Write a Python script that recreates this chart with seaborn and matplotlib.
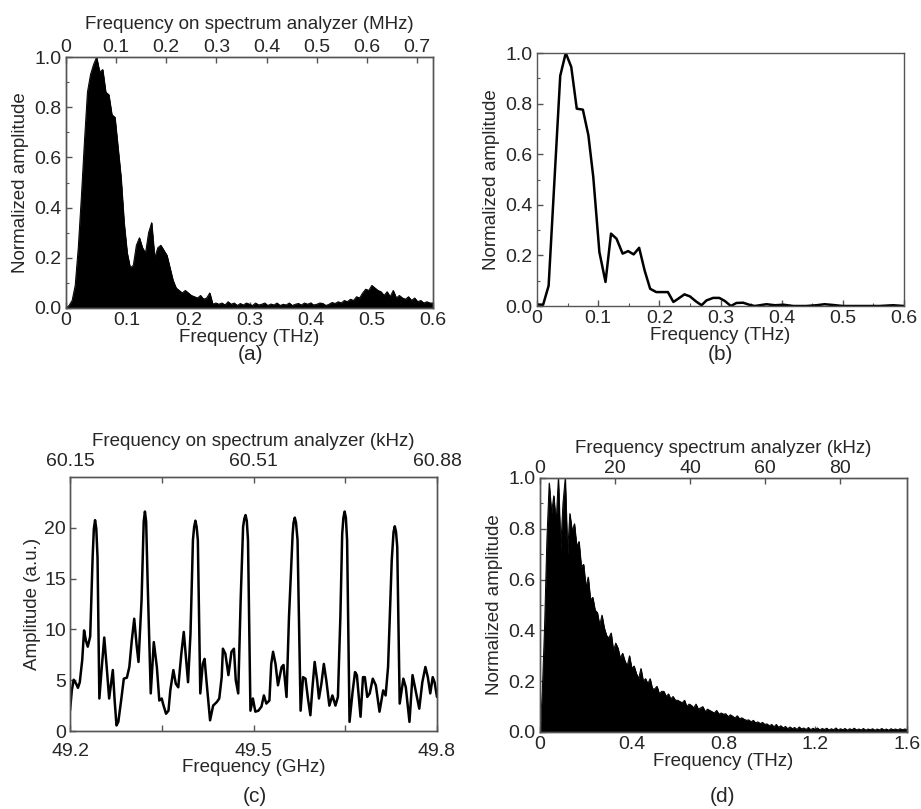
import numpy as np
import matplotlib
matplotlib.use("Agg")
import matplotlib.pyplot as plt
import seaborn as sns
from matplotlib.ticker import MultipleLocator

# ---------------- data ----------------
# (a) spectrum, 0.005 THz step
a_freq = [round(i * 0.005, 3) for i in range(121)]
a_amp = [
    0.00, 0.01, 0.03, 0.09, 0.24, 0.44, 0.66, 0.86, 0.93, 0.97,
    1.00, 0.94, 0.95, 0.86, 0.85, 0.77, 0.76, 0.64, 0.52, 0.34,
    0.22, 0.16, 0.17, 0.25, 0.28, 0.24, 0.22, 0.30, 0.34, 0.20,
    0.24, 0.25, 0.23, 0.21, 0.16, 0.11, 0.08, 0.07, 0.06, 0.07,
    0.06, 0.05, 0.045, 0.04, 0.05, 0.035, 0.04, 0.06, 0.015, 0.02,
    0.015, 0.02, 0.012, 0.025, 0.015, 0.02, 0.01, 0.018, 0.012, 0.02,
    0.015, 0.01, 0.02, 0.012, 0.015, 0.02, 0.01, 0.016, 0.012, 0.02,
    0.01, 0.015, 0.012, 0.02, 0.01, 0.015, 0.018, 0.012, 0.02, 0.015,
    0.02, 0.012, 0.015, 0.02, 0.018, 0.01, 0.015, 0.022, 0.018, 0.025,
    0.02, 0.03, 0.025, 0.035, 0.03, 0.045, 0.04, 0.06, 0.075, 0.07,
    0.09, 0.08, 0.07, 0.065, 0.05, 0.065, 0.045, 0.07, 0.04, 0.05,
    0.04, 0.035, 0.045, 0.03, 0.04, 0.025, 0.03, 0.02, 0.025, 0.02,
    0.02,
]
a_top_max = 0.732          # MHz at right edge of top axis
a_top_ticks = [0, 0.1, 0.2, 0.3, 0.4, 0.5, 0.6, 0.7]

# (b) line spectrum
b_freq = [0.0, 0.01, 0.019, 0.038, 0.047, 0.056, 0.065, 0.075, 0.084, 0.092,
          0.102, 0.112, 0.121, 0.13, 0.14, 0.149, 0.158, 0.167, 0.176, 0.185,
          0.195, 0.214, 0.223, 0.231, 0.241, 0.25, 0.26, 0.269, 0.277, 0.288,
          0.298, 0.307, 0.317, 0.326, 0.337, 0.347, 0.356, 0.367, 0.375, 0.389,
          0.403, 0.419, 0.44, 0.457, 0.47, 0.484, 0.5, 0.527, 0.56, 0.582, 0.6]
b_amp = [0.006, 0.005, 0.08, 0.91, 1.0, 0.945, 0.78, 0.776, 0.675, 0.51,
         0.213, 0.095, 0.286, 0.266, 0.207, 0.217, 0.204, 0.23, 0.14, 0.068,
         0.055, 0.055, 0.016, 0.029, 0.046, 0.038, 0.018, 0.003, 0.022, 0.032,
         0.032, 0.02, 0.0, 0.012, 0.013, 0.005, 0.0, 0.004, 0.007, 0.003,
         0.005, 0.0, 0.0, 0.003, 0.007, 0.004, 0.0, 0.0, 0.0, 0.003, 0.0]

# (c) comb spectrum
c_freq = [49.2, 49.203, 49.206, 49.21, 49.213, 49.216, 49.22, 49.223, 49.226, 49.229,
          49.233, 49.237, 49.239, 49.241, 49.243, 49.245, 49.248, 49.252, 49.256, 49.26,
          49.264, 49.27, 49.273, 49.276, 49.279, 49.284, 49.288, 49.293, 49.297, 49.301,
          49.305, 49.309, 49.312, 49.317, 49.3205, 49.3225, 49.3245, 49.327, 49.332, 49.337,
          49.342, 49.346, 49.35, 49.352, 49.357, 49.361, 49.364, 49.369, 49.373, 49.377,
          49.382, 49.386, 49.389, 49.393, 49.397, 49.401, 49.403, 49.405, 49.407, 49.409,
          49.413, 49.417, 49.42, 49.423, 49.429, 49.434, 49.44, 49.444, 49.448, 49.45,
          49.454, 49.459, 49.464, 49.468, 49.471, 49.475, 49.479, 49.483, 49.485, 49.487,
          49.489, 49.491, 49.495, 49.499, 49.503, 49.508, 49.513, 49.517, 49.521, 49.526,
          49.529, 49.532, 49.536, 49.54, 49.546, 49.549, 49.554, 49.558, 49.564, 49.5655,
          49.5675, 49.5695, 49.572, 49.577, 49.581, 49.585, 49.589, 49.593, 49.596, 49.6,
          49.604, 49.607, 49.611, 49.615, 49.619, 49.624, 49.629, 49.634, 49.638, 49.642,
          49.645, 49.647, 49.649, 49.651, 49.653, 49.657, 49.662, 49.666, 49.669, 49.675,
          49.679, 49.682, 49.686, 49.69, 49.695, 49.7, 49.706, 49.712, 49.716, 49.72,
          49.726, 49.729, 49.731, 49.733, 49.735, 49.739, 49.745, 49.749, 49.755, 49.76,
          49.765, 49.771, 49.776, 49.781, 49.785, 49.789, 49.793, 49.796, 49.8]
c_amp = [2.0, 4.0, 5.05, 4.65, 4.25, 4.8, 7.0, 9.9, 8.9, 8.3,
         9.3, 17.1, 19.9, 20.75, 19.9, 17.1, 3.2, 6.3, 9.2, 6.3,
         3.2, 6.0, 3.0, 0.55, 0.9, 3.2, 5.15, 5.25, 6.3, 8.9,
         11.05, 8.4, 6.8, 12.9, 20.6, 21.6, 20.6, 14.5, 3.7, 8.75,
         6.3, 3.0, 3.2, 2.7, 1.7, 2.0, 4.0, 6.0, 4.65, 4.3,
         7.6, 9.75, 7.6, 4.8, 9.6, 18.8, 20.1, 20.7, 20.1, 18.8,
         3.7, 6.6, 7.1, 5.0, 1.05, 2.5, 2.85, 3.2, 5.3, 8.1,
         7.6, 5.5, 7.8, 8.1, 5.0, 3.7, 12.9, 20.1, 20.9, 21.25,
         20.7, 18.8, 2.0, 3.2, 1.9, 2.0, 2.4, 3.5, 2.7, 3.0,
         6.6, 7.8, 6.6, 4.5, 6.3, 6.5, 3.35, 11.2, 19.4, 20.5,
         21.0, 20.5, 18.8, 2.0, 5.3, 5.15, 3.2, 1.55, 4.0, 6.8,
         5.0, 3.2, 4.65, 6.6, 5.0, 2.5, 3.5, 2.5, 3.35, 11.2,
         19.4, 21.0, 21.6, 21.0, 18.8, 0.9, 3.85, 5.8, 5.5, 1.4,
         5.3, 5.3, 3.35, 3.7, 5.15, 4.5, 1.9, 4.0, 3.5, 6.3,
         16.8, 19.6, 20.15, 19.6, 18.1, 2.7, 5.15, 4.3, 0.9, 5.5,
         4.0, 2.2, 4.8, 6.3, 5.3, 3.7, 5.3, 4.8, 3.35]
c_bottom_ticks = [49.2, 49.5, 49.8]
c_top_labels = ["60.15", "60.51", "60.88"]

# (d) broadband spectrum, 0.01 THz step
d_freq = [round(i * 0.01, 2) for i in range(161)]
d_amp = [
    0.00, 0.16, 0.42, 0.76, 0.98, 0.86, 0.93, 0.82, 1.00, 0.72,
    0.90, 1.00, 0.70, 0.86, 0.79, 0.82, 0.73, 0.75, 0.65, 0.66,
    0.57, 0.61, 0.52, 0.53, 0.48, 0.47, 0.42, 0.46, 0.41, 0.38,
    0.37, 0.39, 0.32, 0.35, 0.33, 0.29, 0.31, 0.28, 0.26, 0.30,
    0.25, 0.26, 0.23, 0.21, 0.25, 0.20, 0.21, 0.19, 0.21, 0.17,
    0.17, 0.18, 0.15, 0.16, 0.16, 0.14, 0.15, 0.13, 0.14, 0.125,
    0.125, 0.12, 0.115, 0.125, 0.10, 0.11, 0.105, 0.095, 0.11, 0.09,
    0.095, 0.10, 0.08, 0.09, 0.085, 0.08, 0.075, 0.085, 0.07, 0.075,
    0.07, 0.072, 0.06, 0.068, 0.062, 0.055, 0.064, 0.052, 0.056, 0.05,
    0.046, 0.048, 0.04, 0.046, 0.036, 0.04, 0.033, 0.038, 0.03, 0.032,
    0.024, 0.03, 0.02, 0.03, 0.018, 0.025, 0.016, 0.022, 0.013, 0.02,
    0.013, 0.018, 0.01, 0.02, 0.012, 0.016, 0.01, 0.018, 0.009, 0.015,
    0.01, 0.016, 0.008, 0.014, 0.01, 0.015, 0.008, 0.013, 0.009, 0.016,
    0.008, 0.013, 0.009, 0.014, 0.007, 0.013, 0.009, 0.015, 0.008, 0.012,
    0.008, 0.014, 0.007, 0.012, 0.009, 0.013, 0.007, 0.012, 0.008, 0.014,
    0.008, 0.012, 0.007, 0.013, 0.009, 0.012, 0.008, 0.013, 0.009, 0.012,
    0.01,
]
d_top_max = 97.8           # kHz at right edge of top axis
d_top_ticks = [0, 20, 40, 60, 80]

# ---------------- style ----------------
sns.set_style("white")
plt.rcParams['font.family'] = ['Liberation Sans', 'DejaVu Sans']
SPINE = "#555555"
TICKFS = 14
LABFS = 13.5

W, H = 921, 809
fig = plt.figure(figsize=(W / 100, H / 100), dpi=100)


def add_ax(l, r, t, b):
    return fig.add_axes([l / W, (H - b) / H, (r - l) / W, (b - t) / H])


def style(ax, top=False):
    for s in ax.spines.values():
        s.set_color(SPINE)
        s.set_linewidth(1.0)
    if top:
        ax.tick_params(axis='x', which='both', top=True, bottom=False)
    else:
        ax.tick_params(axis='both', which='both', bottom=True, left=True)
    ax.tick_params(which='major', direction='in', length=4, width=1, color=SPINE,
                   labelsize=TICKFS, pad=3)
    ax.tick_params(which='minor', direction='in', length=2.5, width=0.8, color=SPINE)


def fmt1(v, p):
    return "0" if abs(v) < 1e-9 else f"{v:.1f}"


# (a)
axa = add_ax(66, 433, 57, 308)
axa.fill_between(a_freq, a_amp, 0, color='black', linewidth=0.5, edgecolor='black')
sns.lineplot(x=a_freq, y=a_amp, ax=axa, color='black', linewidth=0.7, estimator=None)
axa.set_xlim(0, 0.6)
axa.set_ylim(0, 1.0)
axa.xaxis.set_major_locator(MultipleLocator(0.1))
axa.yaxis.set_major_locator(MultipleLocator(0.2))
axa.yaxis.set_minor_locator(MultipleLocator(0.1))
axa.xaxis.set_major_formatter(plt.FuncFormatter(fmt1))
axa.yaxis.set_major_formatter(plt.FuncFormatter(lambda v, p: f"{v:.1f}"))
axa.set_xlabel("Frequency (THz)", fontsize=LABFS, labelpad=0)
axa.set_ylabel("Normalized amplitude", fontsize=LABFS, labelpad=4)
style(axa)
ta = axa.twiny()
ta.set_xlim(0, a_top_max)
ta.set_xticks(a_top_ticks)
ta.set_xticklabels(["0"] + [f"{v:.1f}" for v in a_top_ticks[1:]])
ta.set_xlabel("Frequency on spectrum analyzer (MHz)", fontsize=LABFS, labelpad=7)
style(ta, top=True)
ta.tick_params(pad=1)
fig.text(250 / W, 1 - 355 / H, "(a)", ha='center', va='center', fontsize=15)

# (b)
axb = add_ax(537, 904, 53, 306)
sns.lineplot(x=b_freq, y=b_amp, ax=axb, color='black', linewidth=1.8, estimator=None)
axb.set_xlim(0, 0.6)
axb.set_ylim(0, 1.0)
axb.xaxis.set_major_locator(MultipleLocator(0.1))
axb.xaxis.set_minor_locator(MultipleLocator(0.05))
axb.yaxis.set_major_locator(MultipleLocator(0.2))
axb.yaxis.set_minor_locator(MultipleLocator(0.1))
axb.xaxis.set_major_formatter(plt.FuncFormatter(fmt1))
axb.yaxis.set_major_formatter(plt.FuncFormatter(lambda v, p: f"{v:.1f}"))
axb.set_xlabel("Frequency (THz)", fontsize=LABFS, labelpad=0)
axb.set_ylabel("Normalized amplitude", fontsize=LABFS, labelpad=4)
style(axb)
fig.text(720 / W, 1 - 355 / H, "(b)", ha='center', va='center', fontsize=15)

# (c)
axc = add_ax(70, 437, 477, 731)
sns.lineplot(x=c_freq, y=c_amp, ax=axc, color='black', linewidth=1.8, estimator=None)
axc.set_xlim(49.2, 49.8)
axc.set_ylim(0, 25)
axc.set_xticks(c_bottom_ticks)
axc.set_xticklabels([f"{v:.1f}" for v in c_bottom_ticks])
axc.set_xticks([49.35, 49.65], minor=True)
axc.set_yticks([0, 5, 10, 15, 20])
axc.set_xlabel("Frequency (GHz)", fontsize=LABFS, labelpad=-1)
axc.set_ylabel("Amplitude (a.u.)", fontsize=LABFS, labelpad=2)
style(axc)
axc.tick_params(axis='x', which='both', pad=9)
axc.tick_params(which='minor', length=4, width=1)
tc = axc.twiny()
tc.set_xlim(49.2, 49.8)
tc.set_xticks(c_bottom_ticks)
tc.set_xticklabels(c_top_labels)
tc.set_xticks([49.35, 49.65], minor=True)
tc.set_xlabel("Frequency on spectrum analyzer (kHz)", fontsize=LABFS, labelpad=5)
style(tc, top=True)
tc.tick_params(axis='x', which='both', pad=5)
tc.tick_params(which='minor', length=4, width=1)
fig.text(255 / W, 1 - 797 / H, "(c)", ha='center', va='center', fontsize=15)

# (d)
axd = add_ax(540, 907, 478, 732)
axd.fill_between(d_freq, d_amp, 0, color='black', linewidth=0.5, edgecolor='black')
sns.lineplot(x=d_freq, y=d_amp, ax=axd, color='black', linewidth=0.7, estimator=None)
axd.set_xlim(0, 1.6)
axd.set_ylim(0, 1.0)
axd.xaxis.set_major_locator(MultipleLocator(0.4))
axd.yaxis.set_major_locator(MultipleLocator(0.2))
axd.yaxis.set_minor_locator(MultipleLocator(0.1))
axd.xaxis.set_major_formatter(plt.FuncFormatter(fmt1))
axd.yaxis.set_major_formatter(plt.FuncFormatter(lambda v, p: f"{v:.1f}"))
axd.set_xlabel("Frequency (THz)", fontsize=LABFS, labelpad=0)
axd.set_ylabel("Normalized amplitude", fontsize=LABFS, labelpad=4)
style(axd)
td = axd.twiny()
td.set_xlim(0, d_top_max)
td.set_xticks(d_top_ticks)
td.set_xlabel("Frequency spectrum analyzer (kHz)", fontsize=LABFS, labelpad=5)
style(td, top=True)
td.tick_params(pad=1)
fig.text(722 / W, 1 - 797 / H, "(d)", ha='center', va='center', fontsize=15)

fig.savefig("out.png", dpi=100, facecolor='white')
